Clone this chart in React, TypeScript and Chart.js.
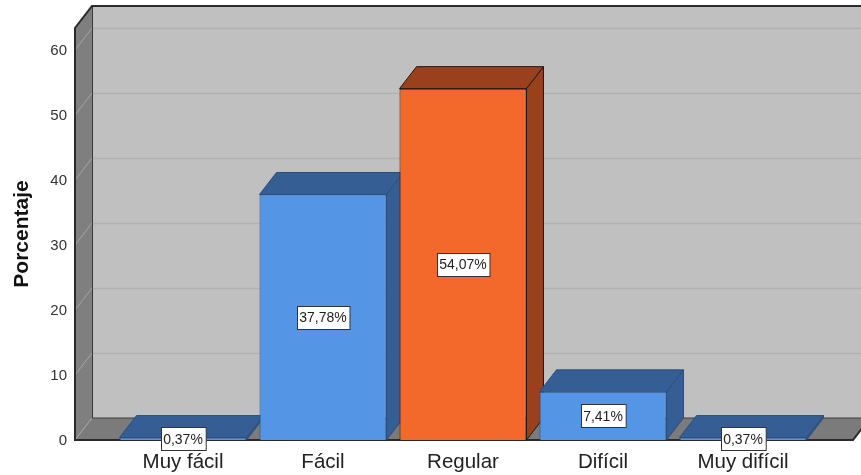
import React, { useEffect, useRef } from "react";
import { Chart, registerables } from "chart.js";

Chart.register(...registerables);

// Survey answers: share of respondents per difficulty level
const categories = ["Muy fácil", "Fácil", "Regular", "Difícil", "Muy difícil"];
const percentages = [0.37, 37.78, 54.07, 7.41, 0.37];
const yTickStep = 10;
const yAxisMax = 63.4;
const yAxisTitle = "Porcentaje";

// Face colours for each bar: front, shaded (top/side) and outline
const frontColors = ["#5595E5", "#5595E5", "#F3692B", "#5595E5", "#5595E5"];
const shadeColors = ["#355E94", "#355E94", "#9A401C", "#355E94", "#355E94"];
const edgeColors = ["#2B4E7E", "#2B4E7E", "#1A1A1A", "#2B4E7E", "#2B4E7E"];

// 3D box geometry (pixels)
const DEPTH_X = 17;
const DEPTH_Y = -22;
const WALL_LEFT_EXT = 38;
const WALL_RIGHT_EXT = 40;

const WIDTH = 861;
const HEIGHT = 475;

const FONT = '"Liberation Sans", Arial, Helvetica, sans-serif';

const formatPct = (v: number) => v.toFixed(2).replace(".", ",") + "%";

const box3dPlugin = {
  id: "box3d",
  beforeDatasetsDraw(chart: any) {
    const { ctx, chartArea, scales } = chart;
    const y = scales.y;
    const dx = DEPTH_X;
    const dy = DEPTH_Y;
    const L = chartArea.left - WALL_LEFT_EXT;
    const R = chartArea.right + WALL_RIGHT_EXT;
    const yb = y.getPixelForValue(0);
    const yt = y.getPixelForValue(yAxisMax);

    ctx.save();

    // back wall
    ctx.fillStyle = "#C0C0C0";
    ctx.fillRect(L + dx, yt + dy, R - L + 40, yb - yt);

    // horizontal grid lines on the back wall
    const tickVals: number[] = y.ticks.map((t: any) => t.value);
    ctx.strokeStyle = "#B1B1B1";
    ctx.lineWidth = 1.5;
    for (const v of tickVals) {
      if (v === 0) continue;
      const py = Math.round(y.getPixelForValue(v) + dy) + 0.5;
      ctx.beginPath();
      ctx.moveTo(L + dx, py);
      ctx.lineTo(R + dx + 40, py);
      ctx.stroke();
    }

    // left side wall
    ctx.fillStyle = "#7F7F7F";
    ctx.beginPath();
    ctx.moveTo(L, yt);
    ctx.lineTo(L + dx, yt + dy);
    ctx.lineTo(L + dx, yb + dy);
    ctx.lineTo(L, yb);
    ctx.closePath();
    ctx.fill();

    // floor
    ctx.fillStyle = "#7B7B7B";
    ctx.beginPath();
    ctx.moveTo(L, yb);
    ctx.lineTo(L + dx, yb + dy);
    ctx.lineTo(R + dx, yb + dy);
    ctx.lineTo(R, yb);
    ctx.closePath();
    ctx.fill();

    // grid lines on the side wall
    ctx.strokeStyle = "#A6A6A6";
    ctx.lineWidth = 1;
    for (const v of tickVals) {
      const py = y.getPixelForValue(v);
      ctx.beginPath();
      ctx.moveTo(L, py);
      ctx.lineTo(L + dx, py + dy);
      ctx.stroke();
    }

    // inner edges
    ctx.strokeStyle = "#3A3A3A";
    ctx.lineWidth = 1;
    ctx.beginPath();
    ctx.moveTo(L + dx + 0.5, yt + dy);
    ctx.lineTo(L + dx + 0.5, yb + dy);
    ctx.lineTo(R + dx + 40, yb + dy);
    ctx.stroke();

    // outer edges
    ctx.strokeStyle = "#2A2A2A";
    ctx.lineWidth = 2;
    ctx.beginPath();
    ctx.moveTo(L, yb);
    ctx.lineTo(L, yt);
    ctx.lineTo(L + dx, yt + dy);
    ctx.lineTo(R + dx + 40, yt + dy);
    ctx.stroke();
    ctx.beginPath();
    ctx.moveTo(L - 1, yb);
    ctx.lineTo(R, yb);
    ctx.lineTo(R + dx, yb + dy);
    ctx.stroke();

    // top and side faces of each bar
    const meta = chart.getDatasetMeta(0);
    meta.data.forEach((bar: any, i: number) => {
      const p = bar.getProps(["x", "y", "base", "width"], true);
      const xl = p.x - p.width / 2;
      const xr = p.x + p.width / 2;
      const top = Math.min(p.y, p.base);
      const base = Math.max(p.y, p.base);
      ctx.fillStyle = shadeColors[i];
      ctx.strokeStyle = edgeColors[i];
      ctx.lineWidth = 1;
      // side
      ctx.beginPath();
      ctx.moveTo(xr, top);
      ctx.lineTo(xr + dx, top + dy);
      ctx.lineTo(xr + dx, base + dy);
      ctx.lineTo(xr, base);
      ctx.closePath();
      ctx.fill();
      ctx.stroke();
      // top
      ctx.beginPath();
      ctx.moveTo(xl, top);
      ctx.lineTo(xl + dx, top + dy);
      ctx.lineTo(xr + dx, top + dy);
      ctx.lineTo(xr, top);
      ctx.closePath();
      ctx.fill();
      ctx.stroke();
    });

    ctx.restore();
  },
  afterDatasetsDraw(chart: any) {
    const { ctx } = chart;
    const meta = chart.getDatasetMeta(0);
    ctx.save();
    ctx.font = `14px ${FONT}`;
    ctx.textAlign = "center";
    ctx.textBaseline = "middle";
    meta.data.forEach((bar: any, i: number) => {
      const p = bar.getProps(["x", "y", "base"], true);
      const text = formatPct(percentages[i]);
      const cy = (p.y + p.base) / 2;
      const w = ctx.measureText(text).width + 5;
      const h = 23;
      const bx = Math.round(p.x - w / 2) + 0.5;
      const by = Math.round(cy - h / 2) + 0.5;
      ctx.fillStyle = "#FFFFFF";
      ctx.fillRect(bx, by, w, h);
      ctx.strokeStyle = "#333333";
      ctx.lineWidth = 1;
      ctx.strokeRect(bx, by, w, h);
      ctx.fillStyle = "#1E1E1E";
      ctx.fillText(text, p.x, cy + 1);
    });
    ctx.restore();
  },
};

export default function App() {
  const canvasRef = useRef<HTMLCanvasElement | null>(null);

  useEffect(() => {
    if (!canvasRef.current) return;
    const chart = new Chart(canvasRef.current, {
      type: "bar",
      data: {
        labels: categories,
        datasets: [
          {
            data: percentages,
            backgroundColor: frontColors,
            borderColor: edgeColors,
            borderWidth: 1,
            categoryPercentage: 1,
            barPercentage: 0.907,
          },
        ],
      },
      options: {
        responsive: false,
        maintainAspectRatio: false,
        animation: false,
        devicePixelRatio: 1,
        layout: { padding: { top: 28, right: 48, left: 0, bottom: 0 } },
        plugins: {
          legend: { display: false },
          tooltip: { enabled: false },
        },
        scales: {
          x: {
            grid: { display: false, drawTicks: true, tickLength: 8 },
            border: { display: false },
            ticks: {
              color: "#222222",
              font: { family: FONT, size: 20.5 },
              padding: 2,
              maxRotation: 0,
            },
            afterFit: (scale: any) => {
              scale.height = 35;
            },
          },
          y: {
            min: 0,
            max: yAxisMax,
            // tick marks are hidden; their length sets the label gap from the box
            grid: { display: false, drawTicks: true, tickLength: 46 },
            border: { display: false },
            ticks: {
              stepSize: yTickStep,
              includeBounds: false,
              color: "#333333",
              font: { family: FONT, size: 15 },
              padding: 0,
              labelOffset: 1,
            },
            title: {
              display: true,
              text: yAxisTitle,
              color: "#111111",
              font: { family: FONT, size: 21, weight: "bold" },
              padding: { top: 10, bottom: 0 },
            },
            afterFit: (scale: any) => {
              scale.width = 113;
            },
          },
        },
      },
      plugins: [box3dPlugin],
    });
    return () => chart.destroy();
  }, []);

  return (
    <div style={{ position: "absolute", left: 0, top: 0, width: WIDTH, height: HEIGHT, background: "#FFFFFF" }}>
      <canvas
        ref={canvasRef}
        width={WIDTH}
        height={HEIGHT}
        style={{ display: "block", width: WIDTH, height: HEIGHT }}
      />
    </div>
  );
}
